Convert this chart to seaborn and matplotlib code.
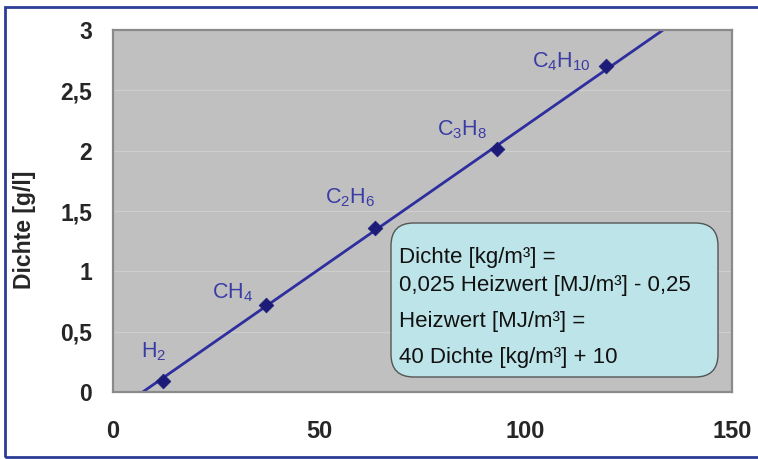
import numpy as np
import pandas as pd
import matplotlib
matplotlib.use("Agg")
import matplotlib.pyplot as plt
from matplotlib.patches import Rectangle, FancyBboxPatch
import seaborn as sns

# Heating value (MJ/m³) and density (g/l) of the fuel gases
gases = ["H$_2$", "CH$_4$", "C$_2$H$_6$", "C$_3$H$_8$", "C$_4$H$_{10}$"]
heizwert = [12.2, 37.0, 63.6, 93.1, 119.4]
dichte = [0.09, 0.72, 1.36, 2.01, 2.70]

# Linear trend line through the gases
trend_x = [7.2, 133.3]
trend_y = [0.0, 3.0]

x_ticks = [0, 50, 100, 150]
y_ticks = [0, 0.5, 1, 1.5, 2, 2.5, 3]
y_tick_labels = ["0", "0,5", "1", "1,5", "2", "2,5", "3"]

formula_lines = [
    "Dichte [kg/m³] =",
    "0,025 Heizwert [MJ/m³] - 0,25",
    "Heizwert [MJ/m³] =",
    "40 Dichte [kg/m³] + 10",
]

# label offsets (points) relative to each marker
label_offsets = [(-7, 21), (-24, 9), (-18, 22), (-25, 14), (-32, 3)]

sns.set_style("white")
plt.rcParams["font.family"] = ["Liberation Sans", "DejaVu Sans"]
plt.rcParams["mathtext.default"] = "regular"

W, H = 758, 459
fig = plt.figure(figsize=(W / 100, H / 100), dpi=100)
fig.patch.set_facecolor("white")

ax = fig.add_axes([113 / W, 1 - 392 / H, (732 - 113) / W, (392 - 30) / H])
ax.set_facecolor("#c0c0c0")

line_color = "#2e2e9e"
marker_color = "#1c1c78"
label_color = "#3b3ba6"

df_trend = pd.DataFrame({"x": trend_x, "y": trend_y})
df_pts = pd.DataFrame({"Heizwert": heizwert, "Dichte": dichte, "Gas": gases})

sns.lineplot(data=df_trend, x="x", y="y", ax=ax, color=line_color, lw=2.0)
sns.scatterplot(data=df_pts, x="Heizwert", y="Dichte", ax=ax, marker="D",
                s=55, color=marker_color, edgecolor=marker_color, zorder=5)

for g, hx, dy, off in zip(gases, heizwert, dichte, label_offsets):
    ax.annotate(g, (hx, dy), xytext=off, textcoords="offset points",
                ha="center", va="center", fontsize=15.5, color=label_color)

ax.set_xlim(0, 150)
ax.set_ylim(0, 3)
ax.set_xticks(x_ticks)
ax.set_xticklabels([str(t) for t in x_ticks])
ax.set_yticks(y_ticks)
ax.set_yticklabels(y_tick_labels)
ax.tick_params(axis="y", length=0, labelsize=16.5, pad=15)
ax.tick_params(axis="x", length=0, labelsize=17, pad=20)
for lab in ax.get_xticklabels() + ax.get_yticklabels():
    lab.set_fontweight("bold")

ax.grid(axis="y", color="#cecece", lw=0.9)
ax.grid(axis="x", visible=False)
ax.set_axisbelow(True)
for s in ax.spines.values():
    s.set_color("#8a8a8a")
    s.set_linewidth(1.6)

ax.set_xlabel("")
ax.set_ylabel("")
fig.text(24 / W, 1 - 230 / H, "Dichte [g/l]", rotation=90, ha="center",
         va="center", fontsize=16.5, fontweight="bold")

# formula box
bx0, by0, bx1, by1 = 391, 223, 718, 377
box = FancyBboxPatch((bx0 / W, 1 - by1 / H), (bx1 - bx0) / W, (by1 - by0) / H,
                     boxstyle="round,pad=0,rounding_size=0.03",
                     transform=fig.transFigure, facecolor="#bde4e8",
                     edgecolor="#555555", lw=1.0, zorder=10,
                     mutation_aspect=W / H)
fig.patches.append(box)
for txt, py in zip(formula_lines, [257, 285, 322, 358]):
    fig.text(399 / W, 1 - py / H, txt, ha="left", va="center", fontsize=16,
             color="#111111", zorder=11)

# outer frame
fig.patches.append(Rectangle((5 / W, 2 / H), 1.0, (457 - 7) / H,
                             transform=fig.transFigure, fill=False,
                             edgecolor="#2b3d96", lw=2.0))

fig.savefig("out.png", dpi=100)
